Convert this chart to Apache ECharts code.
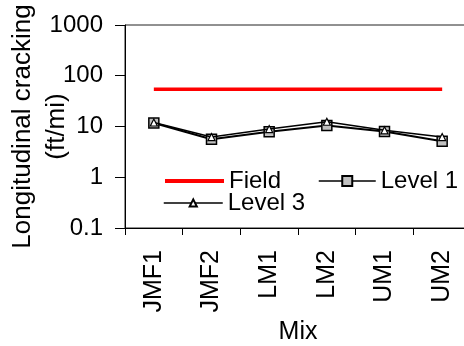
<!DOCTYPE html>
<html>
<head>
<meta charset="utf-8">
<script src="https://cdn.jsdelivr.net/npm/echarts@6/dist/echarts.min.js"></script>
<style>
  html, body { margin: 0; padding: 0; background: #fff; }
  #chart { width: 464px; height: 346px; }
</style>
</head>
<body>
<div id="chart"></div>
<script>
// Longitudinal cracking per mix: field observation vs. predicted levels
const mixes = ['JMF1', 'JMF2', 'LM1', 'LM2', 'UM1', 'UM2'];
const fieldValues = [54, 54, 54, 54, 54, 54];
const level1Values = [11.7, 5.6, 7.9, 10.5, 8.0, 5.1];
const level3Values = [12.0, 6.2, 8.9, 12.4, 8.4, 6.2];
const yTicks = [0.1, 1, 10, 100, 1000];

const FONT = '"Liberation Sans", Arial, sans-serif';

const chart = echarts.init(document.getElementById('chart'), null, { renderer: 'canvas' });

function legendAt(item, left, top, itemHeight, itemWidth, lineWidth) {
  return {
    data: [item],
    left: left,
    top: top,
    padding: 0,
    itemWidth: itemWidth,
    itemHeight: itemHeight,
    selectedMode: false,
    lineStyle: { width: lineWidth },
    textStyle: { fontFamily: FONT, fontSize: 24, color: '#000' }
  };
}

chart.setOption({
  animation: false,
  backgroundColor: '#fff',
  grid: {
    left: 125, top: 25, width: 346, height: 203,
    show: true, borderColor: '#222', borderWidth: 1,
    containLabel: false,
    outerBoundsMode: 'none'
  },
  legend: [
    // the field line carries no marker, so its legend symbol is hidden
    legendAt({ name: 'Field', itemStyle: { opacity: 0 } }, 163, 169, 12, 59, 4),
    legendAt('Level 1', 318, 169, 12.5, 57, 1.5),
    legendAt('Level 3', 163, 191, 9, 59, 1.5)
  ],
  xAxis: {
    type: 'category',
    data: mixes,
    boundaryGap: true,
    name: 'Mix',
    nameLocation: 'middle',
    nameGap: 92,
    nameMoveOverlap: false,
    nameTextStyle: { fontFamily: FONT, fontSize: 25, color: '#000' },
    axisLine: { lineStyle: { color: '#000', width: 1 } },
    axisTick: { show: true, length: 7, alignWithLabel: false, lineStyle: { color: '#000' } },
    axisLabel: {
      rotate: 90, margin: 22, interval: 0,
      fontFamily: FONT, fontSize: 25, color: '#000'
    },
    splitLine: { show: false }
  },
  yAxis: {
    type: 'log',
    logBase: 10,
    min: yTicks[0],
    max: yTicks[yTicks.length - 1],
    name: 'Longitudinal cracking\n(ft/mi)',
    nameLocation: 'middle',
    nameRotate: 90,
    nameGap: 51,
    nameMoveOverlap: false,
    nameTextStyle: { fontFamily: FONT, fontSize: 26, color: '#000', lineHeight: 34, align: 'center' },
    axisLine: { show: true, lineStyle: { color: '#000', width: 1 } },
    axisTick: { show: true, length: 10, lineStyle: { color: '#000' } },
    axisLabel: {
      margin: 22, fontFamily: FONT, fontSize: 24, color: '#000',
      formatter: function (v) { return String(+v.toPrecision(3)); }
    },
    splitLine: { show: false }
  },
  series: [
    {
      name: 'Field',
      type: 'line',
      data: fieldValues,
      symbol: 'none',
      lineStyle: { color: '#ff0000', width: 3.5 },
      itemStyle: { color: '#ff0000' },
      z: 2
    },
    {
      name: 'Level 1',
      type: 'line',
      data: level1Values,
      symbol: 'rect',
      symbolSize: 10,
      lineStyle: { color: '#000', width: 2 },
      itemStyle: { color: '#c0c0c0', borderColor: '#000', borderWidth: 1.5 },
      z: 3
    },
    {
      name: 'Level 3',
      type: 'line',
      data: level3Values,
      symbol: 'triangle',
      symbolSize: 7,
      lineStyle: { color: '#000', width: 1.5 },
      itemStyle: { color: '#fff', borderColor: '#000', borderWidth: 1.2 },
      z: 4
    }
  ]
});
</script>
</body>
</html>
